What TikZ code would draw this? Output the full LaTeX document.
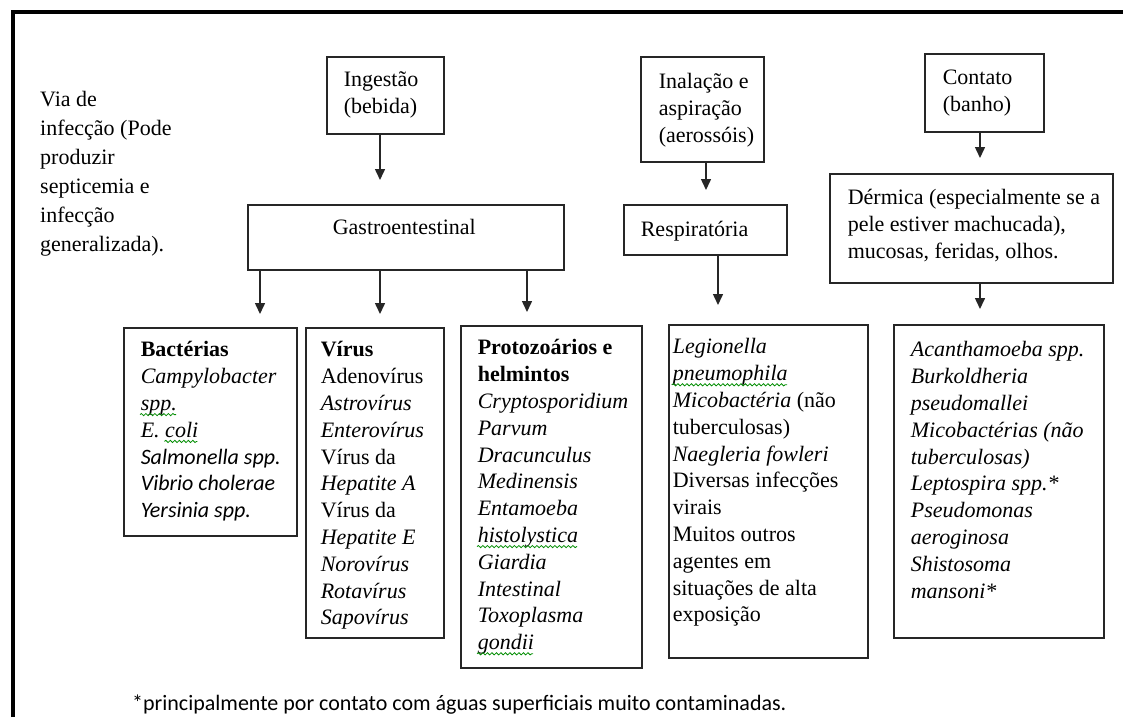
\documentclass[tikz,border=0pt]{standalone}
\usepackage{fontspec}
\setmainfont{Liberation Serif}
\newfontfamily\calibri{Carlito}
\usetikzlibrary{arrows.meta, positioning, calc, decorations.pathmorphing}

% caixa de texto de altura fixa: largura, altura, recuo, primeira linha, texto
\newcommand{\lista}[5]{\parbox[c][#2pt][t]{#1pt}{\raggedright\leftskip=#3pt\relax\rule{0pt}{#4pt}#5}}
\newcommand{\sansit}[1]{{\calibri\itshape #1}}

\tikzset{
  caixa/.style={draw=black!85, line width=1.6pt, inner sep=0pt, anchor=north west},
  seta/.style={-{Triangle[width=10pt,length=11pt]}, line width=1.5pt, draw=black!85, fill=black!85},
  squig/.style={decorate, decoration={snake, amplitude=1.1pt, segment length=4.5pt}, draw=green!55!black, line width=0.8pt},
}

\begin{document}
\begin{tikzpicture}[x=1pt, y=-1pt, font=\fontsize{22}{26.8}\selectfont]
\useasboundingbox (0,0) rectangle (1123,717);
% moldura
\draw[line width=4pt] (12.5,717) -- (12.5,12.5) -- (1123,12.5);

\node[anchor=north west, inner sep=0pt, font=\fontsize{22}{29}\selectfont] (via) at (40,76)
  {\lista{180}{180}{0}{30}{Via de\\infecção (Pode\\produzir\\septicemia e\\infecção\\generalizada).}};

% vias de entrada
\node[caixa] (ingest) at (326,56) {\lista{117}{77}{17}{30}{Ingestão\\(bebida)}};
\node[caixa] (inal) at (640,56) {\lista{123}{105}{18}{32}{Inalação e\\aspiração\\(aerossóis)}};
\node[caixa] (contato) at (924,53) {\lista{119}{78}{18}{31}{Contato\\(banho)}};

\node[caixa] (gastro) at (247,204) {\lista{316}{65}{85}{30}{Gastroentestinal}};
\node[caixa] (resp) at (623,204) {\lista{163}{50}{17}{32}{Respiratória}};
\node[caixa] (derm) at (829,173) {\lista{283}{109}{18}{31}{Dérmica (especialmente se a\\pele estiver machucada),\\mucosas, feridas, olhos.}};

% agentes
\node[caixa] (bact) at (123,327) {\lista{173}{208}{17}{29}{\textbf{Bactérias}\\
  \textit{Campylobacter}\\\textit{spp.}\\\textit{E. coli}\\
  \sansit{Salmonella spp.}\\\sansit{Vibrio cholerae}\\\sansit{Yersinia spp.}}};
\node[caixa] (virus) at (305,327) {\lista{138}{310}{15}{29}{\textbf{Vírus}\\Adenovírus\\
  \textit{Astrovírus}\\\textit{Enterovírus}\\Vírus da\\\textit{Hepatite A}\\Vírus da\\
  \textit{Hepatite E}\\\textit{Norovírus}\\\textit{Rotavírus}\\\textit{Sapovírus}}};
\node[caixa] (proto) at (460,325) {\lista{181}{342}{17}{29}{\textbf{Protozoários e}\\\textbf{helmintos}\\
  \textit{Cryptosporidium}\\\textit{Parvum}\\\textit{Dracunculus}\\\textit{Medinensis}\\
  \textit{Entamoeba}\\\textit{histolystica}\\\textit{Giardia}\\\textit{Intestinal}\\
  \textit{Toxoplasma}\\\textit{gondii}}};
\node[caixa] (legio) at (668,324) {\lista{199}{333}{4}{29}{\textit{Legionella}\\
  \textit{pneumophila}\\\textit{Micobactéria} (não\\tuberculosas)\\
  \textit{Naegleria fowleri}\\Diversas infecções\\virais\\Muitos outros\\agentes em\\
  situações de alta\\exposição}};
\node[caixa] (acanth) at (893,324) {\lista{210}{313}{17}{32}{\itshape Acanthamoeba spp.\\
  Burkoldheria\\pseudomallei\\Micobactérias (não\\tuberculosas)\\Leptospira spp.*\\
  Pseudomonas\\aeroginosa\\Shistosoma\\mansoni*}};

\node[anchor=base west, inner sep=0pt, font=\calibri\fontsize{22}{26}\selectfont] (nota) at (132,710)
  {*principalmente por contato com águas superficiais muito contaminadas.};

% sublinhados ondulados (corretor)
\foreach \caixa/\dx/\dy/\w in {bact/17/87.6/36, bact/41.4/114.4/33, proto/17/221.6/100,
    proto/17/328.8/56, legio/4/60.8/115} {
  \draw[squig] ($(\caixa.north west)+(\dx,\dy)$) -- ++(\w,0);
}

% setas
\coordinate (s1) at ($(ingest.south west)+(54,0)$);
\coordinate (s2) at ($(inal.south west)+(66,0)$);
\coordinate (s3) at ($(contato.south west)+(56,0)$);
\coordinate (s4) at ($(resp.south west)+(95,0)$);
\coordinate (s5) at ($(derm.south west)+(151,0)$);
\draw[seta, shorten >=24pt] (s1) -- (s1 |- gastro.north);
\draw[seta, shorten >=14pt] (s2) -- (s2 |- resp.north);
\draw[seta, shorten >=15pt] (s3) -- (s3 |- derm.north);
\draw[seta, shorten >=19pt] (s4) -- (s4 |- legio.north);
\draw[seta, shorten >=15pt] (s5) -- (s5 |- acanth.north);
\foreach \dx/\alvo in {13/bact, 133/virus, 280/proto} {
  \coordinate (g) at ($(gastro.south west)+(\dx,0)$);
  \draw[seta, shorten >=13pt] (g) -- (g |- \alvo.north);
}
\end{tikzpicture}
\end{document}
